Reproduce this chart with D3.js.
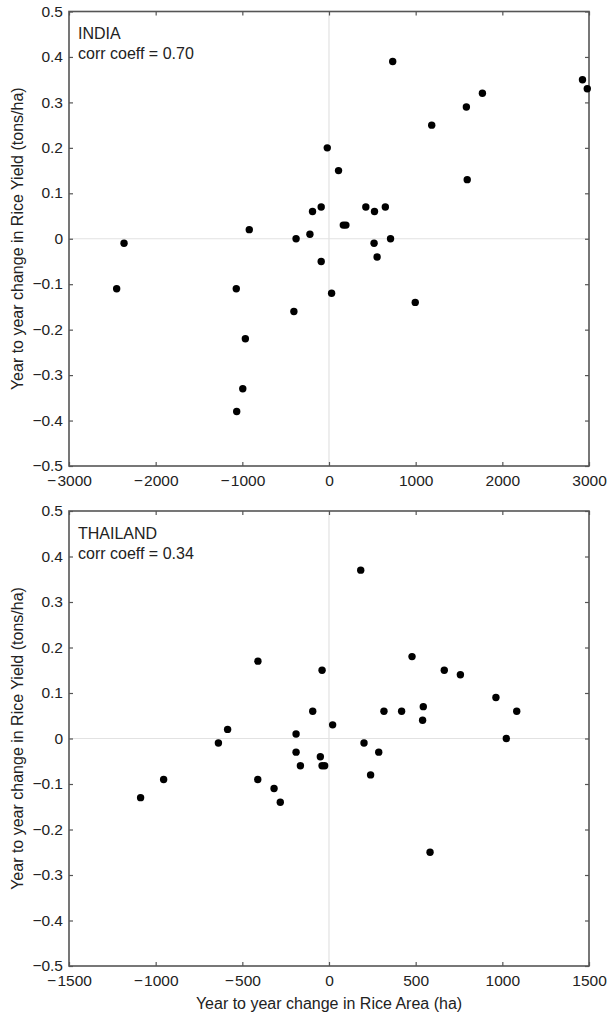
<!DOCTYPE html>
<html><head><meta charset="utf-8">
<script src="https://cdn.jsdelivr.net/npm/d3@7"></script>
<style>body{margin:0;background:#fff}svg{display:block}text{font-family:"Liberation Sans",Arial,sans-serif;fill:#222}</style>
</head><body>
<svg id="c" width="607" height="1013"></svg>
<script>
const indiaX = [-2450,-2365,-1070,-1065,-995,-965,-920,-405,-380,-220,-190,-90,-90,-20,30,110,165,195,425,520,525,555,650,710,735,995,1185,1585,1595,1770,2925,2980];
const indiaY = [-0.11,-0.01,-0.11,-0.38,-0.33,-0.22,0.02,-0.16,0,0.01,0.06,0.07,-0.05,0.20,-0.12,0.15,0.03,0.03,0.07,-0.01,0.06,-0.04,0.07,0,0.39,-0.14,0.25,0.29,0.13,0.32,0.35,0.33];
const thaiX = [-1087,-954,-638,-585,-410,-411,-317,-281,-190,-190,-165,-94,-50,-40,-40,-25,21,183,202,240,287,317,419,479,540,544,583,665,758,963,1023,1083];
const thaiY = [-0.13,-0.09,-0.01,0.02,0.17,-0.09,-0.11,-0.14,0.01,-0.03,-0.06,0.06,-0.04,0.15,-0.06,-0.06,0.03,0.37,-0.01,-0.08,-0.03,0.06,0.06,0.18,0.04,0.07,-0.25,0.15,0.14,0.09,0,0.06];
const indiaXTicks = [-3000,-2000,-1000,0,1000,2000,3000];
const thaiXTicks = [-1500,-1000,-500,0,500,1000,1500];
const yTicks = [-0.5,-0.4,-0.3,-0.2,-0.1,0,0.1,0.2,0.3,0.4,0.5];
const panels = [
  {name:"INDIA", corr:"corr coeff = 0.70", xs:indiaX, ys:indiaY, xd:[-3000,3000], xt:indiaXTicks, top:11.5, bottom:466},
  {name:"THAILAND", corr:"corr coeff = 0.34", xs:thaiX, ys:thaiY, xd:[-1500,1500], xt:thaiXTicks, top:511, bottom:966}
];
const L = 69, R = 589;
const svg = d3.select("#c");
const fmtY = d => d===0 ? "0" : d3.format(".1f")(d).replace("-", "\u2212");
const fmtX = d => String(d).replace("-", "\u2212\u200A");
panels.forEach((p,i) => {
  const x = d3.scaleLinear().domain(p.xd).range([L,R]);
  const y = d3.scaleLinear().domain([-0.5,0.5]).range([p.bottom,p.top]);
  const g = svg.append("g");
  g.append("line").attr("x1",x(0)).attr("x2",x(0)).attr("y1",p.top).attr("y2",p.bottom).attr("stroke","#e2e2e2").attr("stroke-width",1.2);
  g.append("line").attr("x1",L).attr("x2",R).attr("y1",y(0)).attr("y2",y(0)).attr("stroke","#e2e2e2").attr("stroke-width",1.2);
  const ax = (axis, tr) => {
    const a = g.append("g").attr("transform",tr).call(axis);
    a.select(".domain").remove();
    a.selectAll(".tick line").attr("stroke","#555").attr("stroke-width",1.2);
    a.selectAll("text").style("font-size","15.5px").attr("fill","#222");
    return a;
  };
  const bx = ax(d3.axisBottom(x).tickValues(p.xt).tickSize(-4).tickPadding(9).tickFormat(fmtX), `translate(0,${p.bottom})`);
  bx.selectAll("text").attr("dy","0.72em");
  ax(d3.axisTop(x).tickValues(p.xt).tickSize(-4).tickFormat(""), `translate(0,${p.top})`);
  const ly = ax(d3.axisLeft(y).tickValues(yTicks).tickSize(-4).tickPadding(6).tickFormat(fmtY), `translate(${L},0)`);
  ly.selectAll("text").attr("dy","0.3em");
  ax(d3.axisRight(y).tickValues(yTicks).tickSize(-4).tickFormat(""), `translate(${R},0)`);
  g.append("rect").attr("x",L).attr("y",p.top).attr("width",R-L).attr("height",p.bottom-p.top)
    .attr("fill","none").attr("stroke","#555").attr("stroke-width",1.6);
  g.selectAll("circle").data(p.xs.map((v,k)=>[v,p.ys[k]])).join("circle")
    .attr("cx",d=>x(d[0])).attr("cy",d=>y(d[1])).attr("r",3.7).attr("fill","#000");
  g.append("text").attr("x",78).attr("y",p.top+27.5).style("font-size","16px").text(p.name);
  g.append("text").attr("x",78).attr("y",p.top+47.5).style("font-size","16px").text(p.corr);
  g.append("text").attr("transform",`translate(23,${(p.top+p.bottom)/2}) rotate(-90)`)
    .attr("text-anchor","middle").style("font-size","16px").text("Year to year change in Rice Yield (tons/ha)");
});
svg.append("text").attr("x",329).attr("y",1008.5).attr("text-anchor","middle").style("font-size","16px")
  .text("Year to year change in Rice Area (ha)");
</script>
</body></html>
